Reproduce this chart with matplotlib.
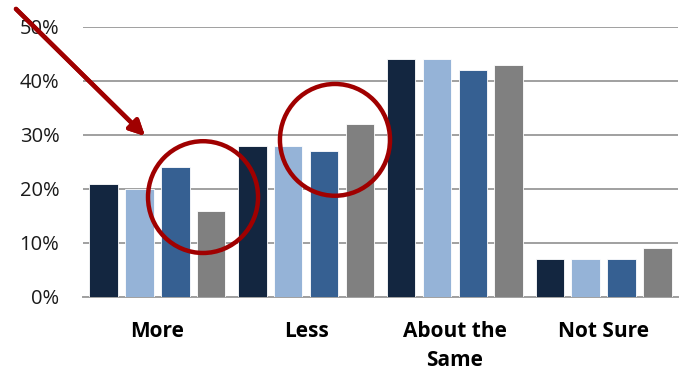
import matplotlib.pyplot as plt
import numpy as np
from matplotlib.patches import Ellipse
from matplotlib.ticker import FuncFormatter

categories = ['More', 'Less', 'About the\nSame', 'Not Sure']
series_a = [21, 28, 44, 7]
series_b = [20, 28, 44, 7]
series_c = [24, 27, 42, 7]
series_d = [16, 32, 43, 9]
colors = ['#132640', '#95b3d7', '#366092', '#808080']

plt.rcParams['font.family'] = ['Open Sans', 'DejaVu Sans']

fig = plt.figure(figsize=(6.84, 3.73), dpi=100)
ax = fig.add_axes([83 / 684, 1 - 297 / 373, 595 / 684, 270 / 373])

x = np.arange(len(categories))
pitch = 0.241
width = 0.192
for i, vals in enumerate([series_a, series_b, series_c, series_d]):
    ax.bar(x + (i - 1.5) * pitch, vals, width, color=colors[i],
           edgecolor='white', linewidth=0.6, zorder=3)

ax.set_xlim(-0.5, 3.5)
ax.set_ylim(0, 50)
ax.set_yticks(range(0, 51, 10))
ax.yaxis.set_major_formatter(FuncFormatter(lambda v, p: f'{v:.0f}%'))
ax.grid(axis='y', color='#a0a0a0', linewidth=1.4, zorder=0)
ax.set_axisbelow(True)
for s in ['left', 'right', 'top']:
    ax.spines[s].set_visible(False)
ax.spines['bottom'].set_color('#a0a0a0')
ax.spines['bottom'].set_linewidth(1.4)
ax.tick_params(axis='y', length=0, pad=17, labelsize=14.5, labelcolor='#1a1a1a')
ax.tick_params(axis='x', length=0, pad=17, labelsize=15)
ax.set_xticks(x)
ax.set_xticklabels(categories, fontweight='bold', linespacing=1.55)

# red circles around highlighted bars
red = '#a00000'
ax.add_patch(Ellipse((0.307, 18.5), 0.74, 20.7, fill=False, edgecolor=red,
                     linewidth=3.2, zorder=5, clip_on=False))
ax.add_patch(Ellipse((1.194, 29.1), 0.74, 20.7, fill=False, edgecolor=red,
                     linewidth=3.2, zorder=5, clip_on=False))

# arrow
fig.add_artist(plt.annotate('', xy=(147 / 684, 1 - 138 / 373), xycoords='figure fraction',
                            xytext=(14 / 684, 1 - 7 / 373), textcoords='figure fraction',
                            arrowprops=dict(arrowstyle='-|>,head_length=0.9,head_width=0.45',
                                            color=red, lw=3.2), zorder=6))

fig.savefig('out.png', dpi=100)
